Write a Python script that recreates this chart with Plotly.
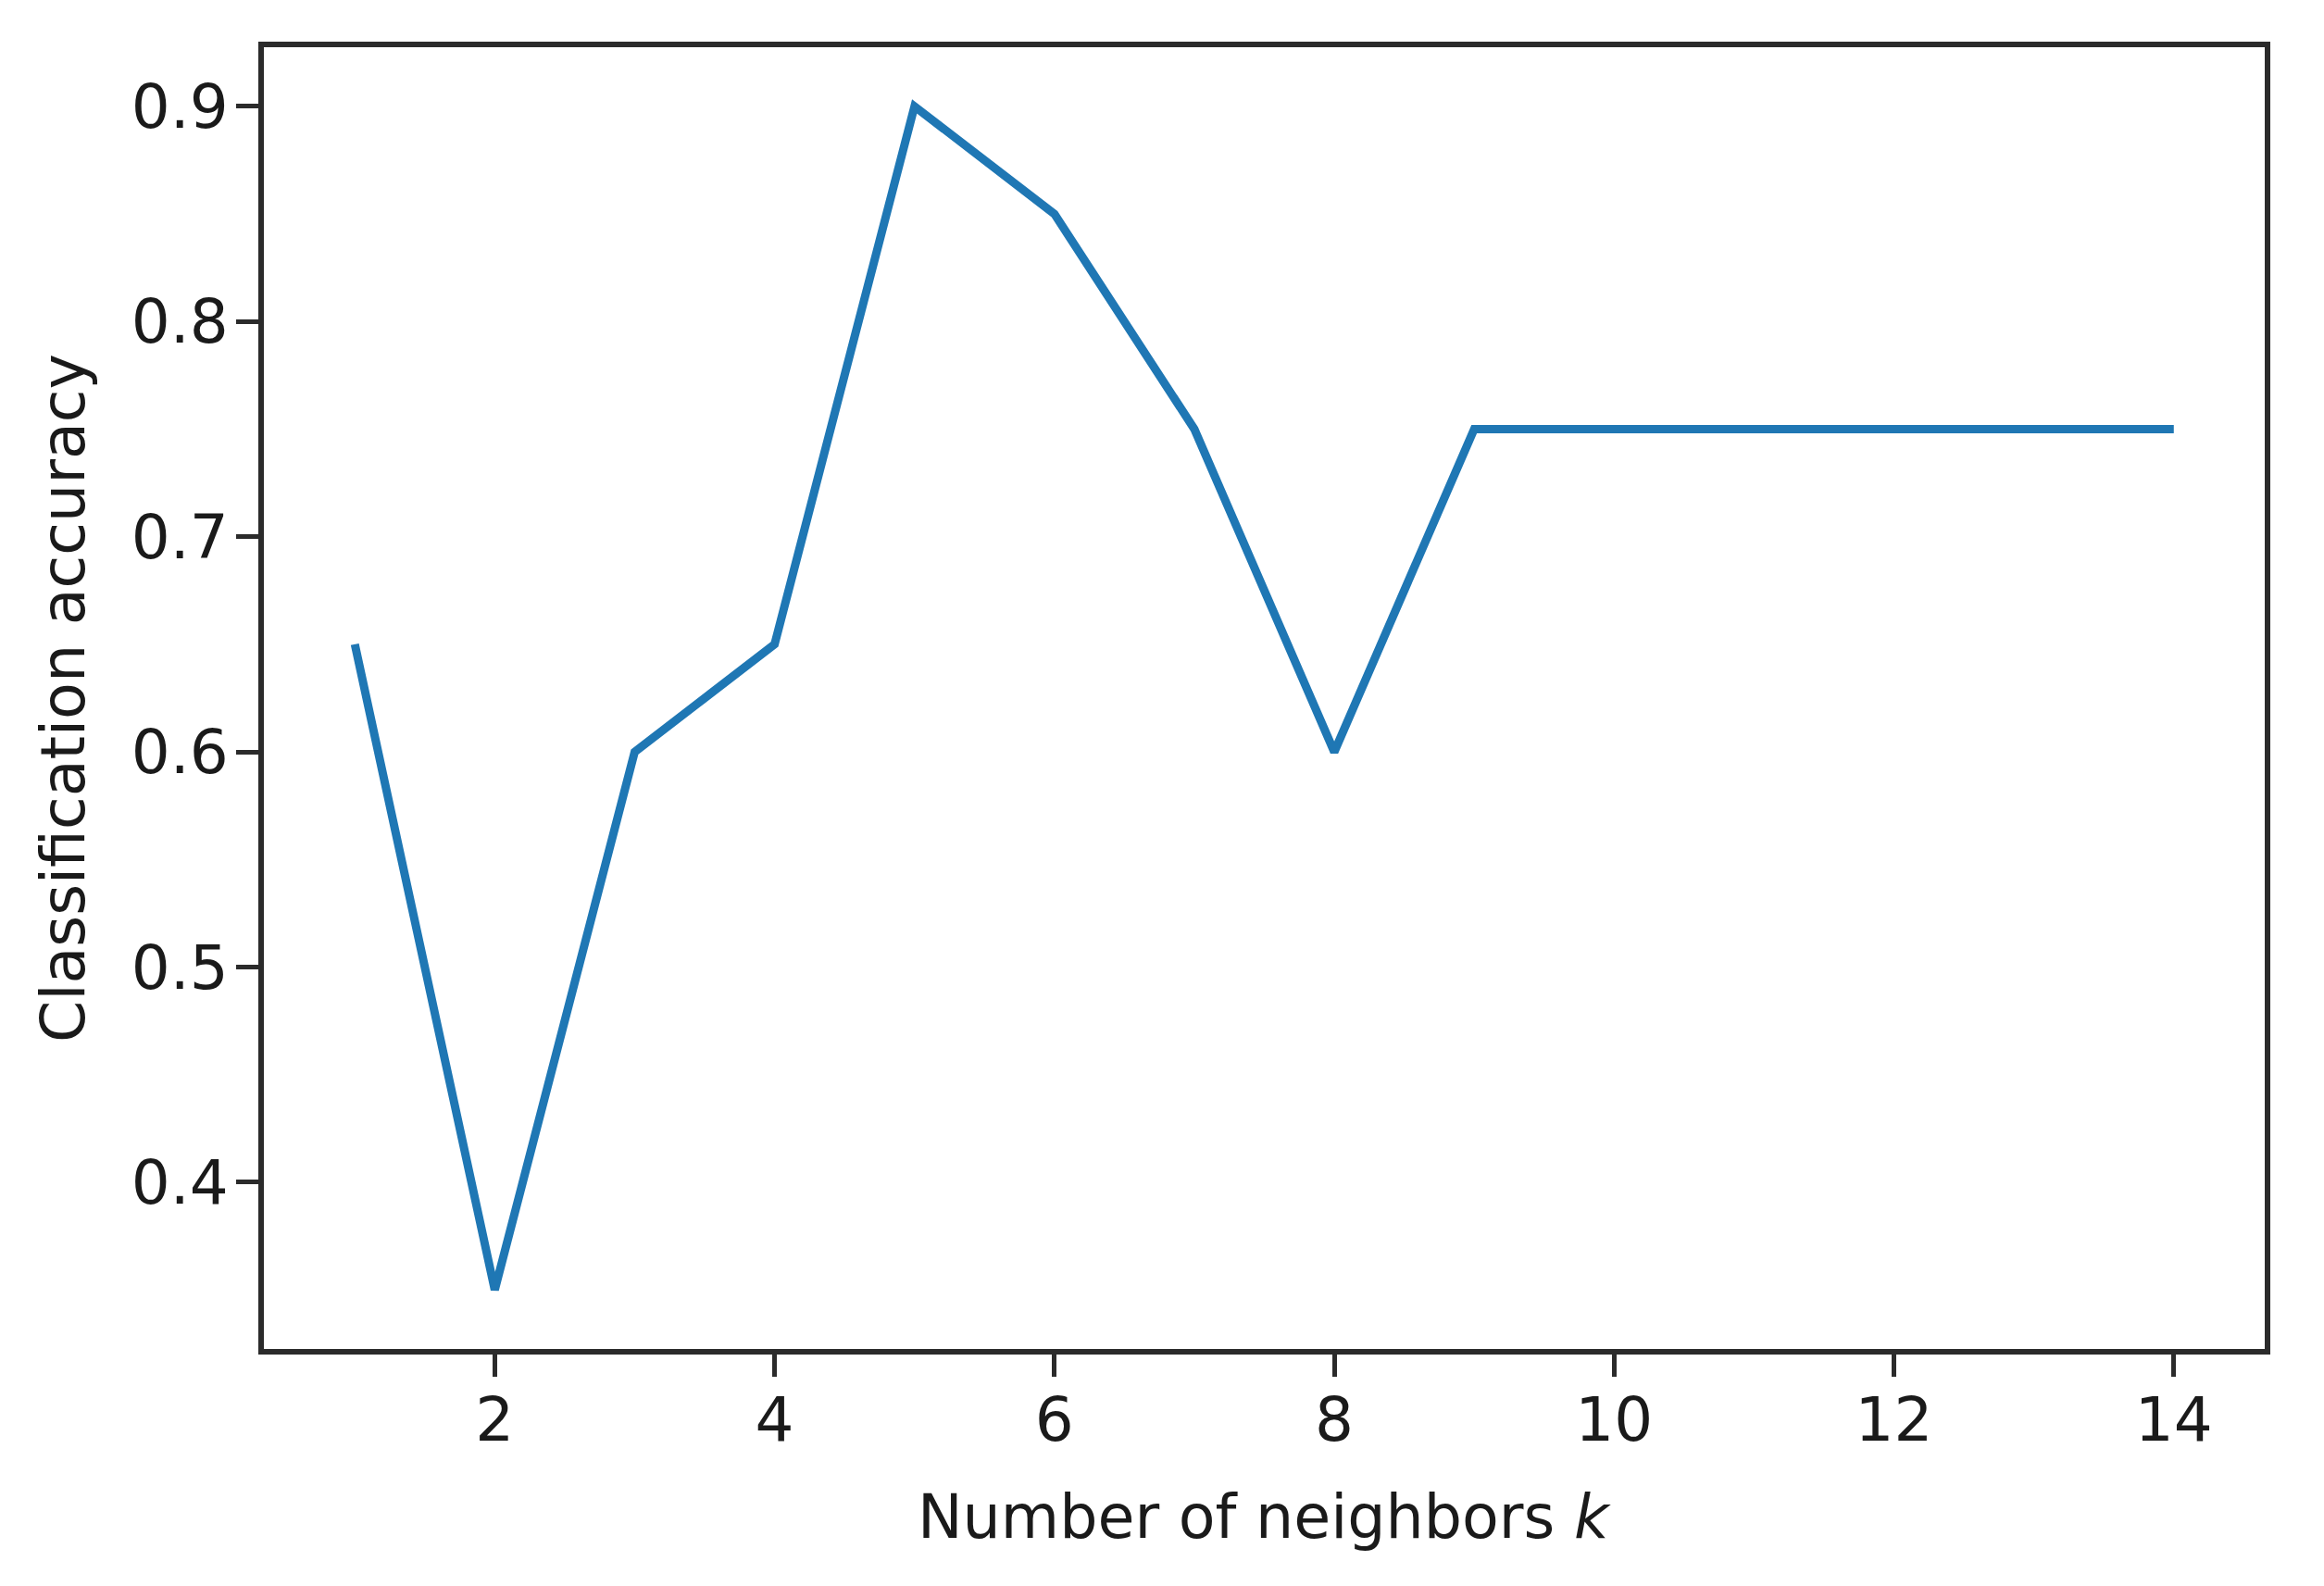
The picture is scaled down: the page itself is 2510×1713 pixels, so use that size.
import plotly.graph_objects as go

k_values = list(range(1, 15))
accuracy = [0.65, 0.35, 0.60, 0.65, 0.90, 0.85, 0.75, 0.60, 0.75, 0.75, 0.75, 0.75, 0.75, 0.75]
x_ticks = [2, 4, 6, 8, 10, 12, 14]
y_ticks = [0.4, 0.5, 0.6, 0.7, 0.8, 0.9]
x_title = "Number of neighbors <i>k</i>"
y_title = "Classification accuracy"

W, H = 2510, 1713
# page body has an 8px margin; plot box in reference: x 285..2446, y 51..1457
L, T = 277, 43
PW, PH = 2161, 1406
R = W - L - PW
B = H - T - PH
FONT = "DejaVu Sans"
FS = 66
FS_T = 65
AX = "#2b2b2b"
TXT = "#1a1a1a"

fig = go.Figure()
fig.add_trace(go.Scatter(x=k_values, y=accuracy, mode="lines",
                         line=dict(color="#1f77b4", width=9), showlegend=False))

axis_common = dict(showline=True, linecolor=AX, linewidth=6, mirror=True,
                   ticks="outside", ticklen=24, tickwidth=5, tickcolor=AX,
                   showgrid=False, zeroline=False,
                   tickfont=dict(family=FONT, size=FS, color=TXT))

fig.update_xaxes(range=[0.35, 14.65], tickvals=x_ticks,
                 ticktext=[str(v) for v in x_ticks], ticklabelstandoff=-10, **axis_common)
fig.update_yaxes(range=[0.3225, 0.9275], tickvals=y_ticks,
                 ticktext=[f"{v:.1f}" for v in y_ticks], ticklabelstandoff=-5, **axis_common)

fig.add_annotation(text=x_title, xref="paper", yref="paper", x=0.5,
                   y=-(1638 - 1457) / PH, xanchor="center", yanchor="middle",
                   showarrow=False, font=dict(family=FONT, size=FS_T, color=TXT))
fig.add_annotation(text=y_title, xref="paper", yref="paper", y=0.5,
                   x=(68 - 285) / PW, xanchor="center", yanchor="middle", textangle=-90,
                   showarrow=False, font=dict(family=FONT, size=FS_T, color=TXT))

fig.update_layout(width=W, height=H, margin=dict(l=L, r=R, t=T, b=B, autoexpand=False),
                  paper_bgcolor="white", plot_bgcolor="white",
                  font=dict(family=FONT, size=FS))

fig.write_html("out.html")
